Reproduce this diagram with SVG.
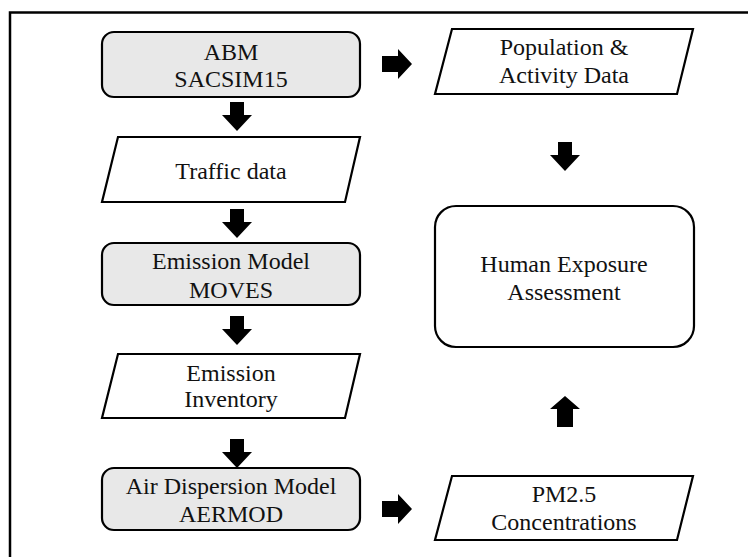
<svg xmlns="http://www.w3.org/2000/svg" width="748" height="557" viewBox="0 0 748 557">
<style>
.frame{fill:none;stroke:#000;stroke-width:2.5}
.proc{fill:#e8e8e8;stroke:#000;stroke-width:2.2}
.data{fill:#fff;stroke:#000;stroke-width:2.2}
.out{fill:#fff;stroke:#000;stroke-width:2.2}
text{font-family:'Liberation Serif',serif;font-size:24px;fill:#111;text-anchor:middle}
.arr{fill:#000}
</style>
<defs>
<path id="down" d="M-7,0 H7 V13 H15 L0,29 L-15,13 H-7 Z"/>
<path id="right" d="M0,-8 H16 V-15 L30,0 L16,15 V8 H0 Z"/>
<path id="up" d="M-8,30 H8 V12 H15 L0,-1 L-15,12 H-8 Z"/>
</defs>
<rect width="748" height="557" fill="#fff"/>
<rect class="frame" x="10" y="12.5" width="760" height="560"/>

<g id="abm">
<rect class="proc" x="102" y="32" width="258" height="65" rx="12"/>
<text x="231" y="60">ABM</text>
<text x="231" y="87">SACSIM15</text>
</g>
<g id="traffic">
<polygon class="data" points="118,137 360,137 345,202 102,202"/>
<text x="231" y="179">Traffic data</text>
</g>
<g id="emission-model">
<rect class="proc" x="102" y="243" width="258" height="62" rx="12"/>
<text x="231" y="269">Emission Model</text>
<text x="231" y="298">MOVES</text>
</g>
<g id="emission-inventory">
<polygon class="data" points="118,354 360,354 345,418 102,418"/>
<text x="231" y="381">Emission</text>
<text x="231" y="407">Inventory</text>
</g>
<g id="aermod">
<rect class="proc" x="102" y="468" width="258" height="62" rx="12"/>
<text x="231" y="494">Air Dispersion Model</text>
<text x="231" y="522">AERMOD</text>
</g>
<g id="population">
<polygon class="data" points="452,29 693,29 677,94 435,94"/>
<text x="564" y="55">Population &amp;</text>
<text x="564" y="83">Activity Data</text>
</g>
<g id="exposure">
<rect class="out" x="435" y="206" width="259" height="141" rx="21"/>
<text x="564" y="272">Human Exposure</text>
<text x="564" y="300">Assessment</text>
</g>
<g id="pm25">
<polygon class="data" points="452,476 693,476 677,540 435,540"/>
<text x="564" y="502">PM2.5</text>
<text x="564" y="530">Concentrations</text>
</g>

<g id="connectors">
<use href="#down" x="237" y="102" class="arr"/>
<use href="#down" x="237" y="209" class="arr"/>
<use href="#down" x="237" y="316" class="arr"/>
<use href="#down" x="237" y="439" class="arr"/>
<use href="#down" x="565" y="142" class="arr"/>
<use href="#up" x="565" y="397" class="arr"/>
<use href="#right" x="382" y="64" class="arr"/>
<use href="#right" x="382" y="509" class="arr"/>
</g>
</svg>
